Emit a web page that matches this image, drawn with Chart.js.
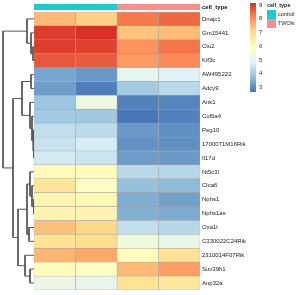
<!DOCTYPE html>
<html>
<head>
<meta charset="utf-8">
<script src="https://cdn.jsdelivr.net/npm/chart.js@4"></script>
<style>
  body { margin: 0; background: #fff; width: 300px; height: 295px; overflow: hidden; position: relative; font-family: "Liberation Sans", Arial, sans-serif; }
  canvas { position: absolute; }
  .leg { position: absolute; font-size: 5.5px; color: #222; white-space: nowrap; line-height: 1; }
  .box { position: absolute; width: 9px; height: 9px; }
</style>
</head>
<body>
<canvas id="annot" width="216" height="14" style="left:34px;top:0px"></canvas>
<canvas id="dendro" width="34" height="278" style="left:0px;top:12px"></canvas>
<canvas id="heat" width="216" height="278" style="left:34px;top:12px"></canvas>
<canvas id="bar" width="20" height="96" style="left:250px;top:0px"></canvas>

<div class="leg" style="left:267px;top:3px;font-weight:bold">cell_type</div>
<div class="box" style="left:267px;top:10px;background:#1ACBD1"></div>
<div class="box" style="left:267px;top:19px;background:#F68F8E"></div>
<div class="leg" style="left:278px;top:12px">control</div>
<div class="leg" style="left:278px;top:21px">TWOls</div>

<script>
const genes = ["Dnajc1", "Gm15441", "Ctu2", "Kif3c", "AW495222", "Adcy9", "Ank1", "Col6a4",
  "Peg10", "1700071M16Rik", "Il17d", "Nt5c3l", "Clca6", "Nphs1", "Nphs1as", "Oxa1l",
  "C330022C24Rik", "2310014F07Rik", "Suv39h1", "Anp32a"];
const sampleTypes = ["control", "control", "TWOls", "TWOls"];

// expression per sample (column), rows in gene order
const sample1 = [7.5, 9.0, 9.0, 8.7, 3.4, 3.25, 3.9, 4.0, 4.4, 4.5, 4.65, 6.1, 6.8, 6.25, 6.3, 7.4, 6.9, 7.55, 6.0, 5.2];
const sample2 = [7.2, 9.15, 8.95, 8.65, 3.2, 2.8, 5.3, 3.95, 4.35, 4.7, 4.55, 6.0, 5.8, 6.15, 6.25, 7.1, 7.0, 7.7, 5.85, 5.1];
const sample3 = [8.3, 7.35, 8.0, 7.9, 5.0, 4.0, 2.85, 2.7, 3.2, 3.1, 3.25, 4.3, 3.8, 3.5, 3.55, 4.4, 5.35, 5.95, 7.5, 6.9];
const sample4 = [8.5, 7.45, 8.35, 8.1, 4.8, 4.3, 2.9, 2.85, 3.05, 3.05, 3.2, 4.25, 3.7, 3.3, 3.45, 4.25, 5.1, 6.9, 7.85, 6.75];
const samples = [sample1, sample2, sample3, sample4];

// row clustering, hclust style: negative = leaf (1-based row), positive = earlier merge
const mergeLeft = [-3, -2, -1, -5, -10, -9, -8, -7, 4, -14, -13, -12, -16, 12, -19, -18, 14, 9, 3];
const mergeRight = [-4, 1, 2, -6, -11, 5, 6, 7, 8, -15, 10, 11, -17, 13, -20, 15, 16, 17, 18];
const mergeHeight = [1, 3, 7, 3, 0.5, 1, 2, 4, 12, 0.5, 2, 4, 5, 7, 4, 9, 16, 21, 31];

const scaleMin = 2.67, scaleMax = 9.15;
const barTicks = [3, 4, 5, 6, 7, 8, 9];
const palette = ["#4575B4", "#91BFDB", "#E0F3F8", "#FFFFBF", "#FEE090", "#FC8D59", "#D73027"];
const typeColors = { control: "#1ACBD1", TWOls: "#F68F8E" };

const FONT = "'Liberation Sans', Arial, sans-serif";

function hex(c) { return [1, 3, 5].map(i => parseInt(c.slice(i, i + 2), 16)); }
function colorFor(v) {
  let t = (v - scaleMin) / (scaleMax - scaleMin);
  t = Math.max(0, Math.min(1, t)) * (palette.length - 1);
  const i = Math.min(Math.floor(t), palette.length - 2);
  const f = t - i;
  const a = hex(palette[i]), b = hex(palette[i + 1]);
  const c = a.map((x, k) => Math.round(x + (b[k] - x) * f));
  return `rgb(${c[0]},${c[1]},${c[2]})`;
}

// fixed width right-hand axis, no extra label padding above/below
function fixAxis(width) {
  return (s) => { s.width = width; s.paddingTop = 0; s.paddingBottom = 0; };
}

// heatmap cells
new Chart(document.getElementById("heat"), {
  type: "bar",
  data: {
    labels: genes,
    datasets: samples.map(s => ({
      data: s.map(() => 1),
      backgroundColor: s.map(colorFor),
      borderColor: "#a0a0a0",
      borderWidth: 0.5,
      borderSkipped: false,
      categoryPercentage: 1,
      barPercentage: 1,
    })),
  },
  options: {
    indexAxis: "y",
    responsive: false,
    animation: false,
    layout: { padding: 0 },
    plugins: { legend: { display: false }, tooltip: { enabled: false } },
    scales: {
      x: { stacked: true, min: 0, max: samples.length, display: false },
      y: {
        stacked: true,
        position: "right",
        grid: { display: false, drawTicks: false },
        border: { display: false },
        ticks: { padding: 2, color: "#222", font: { size: 6, family: FONT } },
        afterFit: fixAxis(50),
      },
    },
  },
});

// annotation bar
new Chart(document.getElementById("annot"), {
  type: "bar",
  data: {
    labels: ["cell_type"],
    datasets: sampleTypes.map(t => ({
      data: [1],
      backgroundColor: typeColors[t],
      borderWidth: 0,
      categoryPercentage: 1,
      barPercentage: 1,
    })),
  },
  options: {
    indexAxis: "y",
    responsive: false,
    animation: false,
    layout: { padding: { top: 4, bottom: 4 } },
    plugins: { legend: { display: false }, tooltip: { enabled: false } },
    scales: {
      x: { stacked: true, min: 0, max: sampleTypes.length, display: false },
      y: {
        stacked: true,
        position: "right",
        grid: { display: false, drawTicks: false },
        border: { display: false },
        ticks: { padding: 2, color: "#111", font: { size: 6, weight: "bold", family: FONT } },
        afterFit: fixAxis(50),
      },
    },
  },
});

// dendrogram
const nodes = [];
function info(k) { return k < 0 ? { y: -k - 1, h: 0 } : nodes[k - 1]; }
const dendroSets = mergeHeight.map((h, i) => {
  const a = info(mergeLeft[i]), b = info(mergeRight[i]);
  nodes.push({ y: (a.y + b.y) / 2, h: h });
  return {
    data: [{ x: a.h, y: a.y }, { x: h, y: a.y }, { x: h, y: b.y }, { x: b.h, y: b.y }],
    showLine: true,
    borderColor: "#555",
    borderWidth: 1,
    pointRadius: 0,
    tension: 0,
    clip: false,
  };
});
new Chart(document.getElementById("dendro"), {
  type: "scatter",
  data: { datasets: dendroSets },
  options: {
    responsive: false,
    animation: false,
    layout: { padding: 0 },
    plugins: { legend: { display: false }, tooltip: { enabled: false } },
    scales: {
      x: { type: "linear", min: 0, max: 34, reverse: true, display: false },
      y: { type: "linear", min: -0.5, max: genes.length - 0.5, reverse: true, display: false },
    },
  },
});

// colour key
new Chart(document.getElementById("bar"), {
  type: "bar",
  data: {
    labels: ["key"],
    datasets: [{
      data: [[scaleMin, scaleMax]],
      borderWidth: 0,
      borderSkipped: false,
      categoryPercentage: 1,
      barPercentage: 1,
      backgroundColor: (ctx) => {
        const chart = ctx.chart;
        if (!chart.chartArea) return palette[3];
        const y = chart.scales.y;
        const g = chart.ctx.createLinearGradient(0, y.getPixelForValue(scaleMin), 0, y.getPixelForValue(scaleMax));
        palette.forEach((c, i) => g.addColorStop(i / (palette.length - 1), c));
        return g;
      },
    }],
  },
  options: {
    responsive: false,
    animation: false,
    layout: { padding: { top: 3, bottom: 4 } },
    plugins: { legend: { display: false }, tooltip: { enabled: false } },
    scales: {
      x: { display: false },
      y: {
        min: scaleMin,
        max: scaleMax,
        position: "right",
        grid: { display: false, drawTicks: false },
        border: { display: false },
        afterBuildTicks: (s) => { s.ticks = barTicks.map(v => ({ value: v })); },
        ticks: { padding: 3, color: "#333", font: { size: 6, family: FONT } },
        afterFit: fixAxis(14),
      },
    },
  },
});
</script>
</body>
</html>
